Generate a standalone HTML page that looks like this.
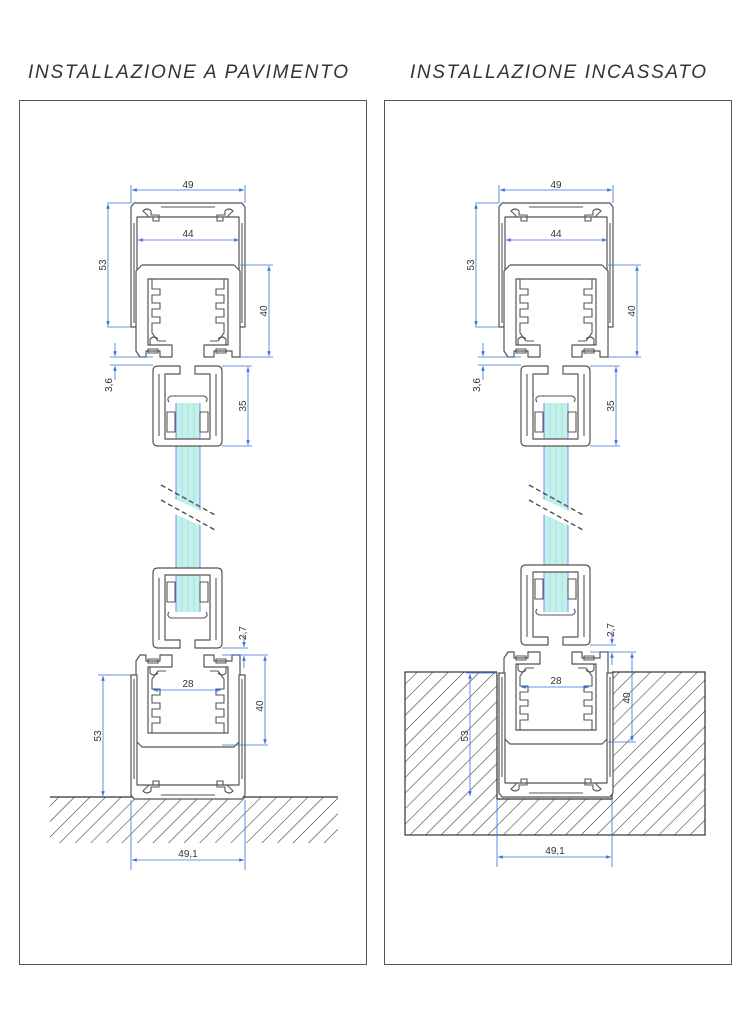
<!DOCTYPE html>
<html><head><meta charset="utf-8"><style>
html,body{margin:0;padding:0;background:#fff}
svg{display:block}
text{font-family:"Liberation Sans",sans-serif;fill:#333}
.t{font-size:19px;font-style:italic;letter-spacing:2px;fill:#333}
.d{font-size:10px}
.p{fill:#fff;stroke:#555;stroke-width:1.2;stroke-linejoin:round}
.q{fill:none;stroke:#555;stroke-width:1.1}
.dm{stroke:#3b6fe0;stroke-width:0.8;fill:none}
</style></head><body>
<svg width="751" height="1024" viewBox="0 0 751 1024" xmlns="http://www.w3.org/2000/svg">
<defs>
<marker id="a" viewBox="0 0 8 6" refX="8" refY="3" markerWidth="6" markerHeight="5" orient="auto-start-reverse"><path d="M0,0L8,3L0,6Z" fill="#3b6fe0"/></marker>
<pattern id="h" width="11" height="11" patternUnits="userSpaceOnUse" patternTransform="rotate(45)"><line x1="0" y1="0" x2="0" y2="11" stroke="#333" stroke-width="1.1"/></pattern>
<g id="TO">
<path class="p" d="M3,0H111L114,4V124H108V14H6V124H0V4Z"/>
<path class="q" d="M12,8q4,-4 8,0v4h8v6h-6v-4h-4z M102,8q-4,-4 -8,0v4h-8v6h6v-4h4z M30,4H84"/>
<line class="q" x1="3" y1="20" x2="3" y2="120"/><line class="q" x1="111" y1="20" x2="111" y2="120"/>
</g>
<g id="IN">
<path class="p" d="M6,0H98L104,6V92H96V86H78V92H68V80H92V14H12V80H36V92H24V86H10V92H4L0,86V6Z"/>
<path class="q" d="M16,14V24H24V30H16V38H24V44H16V52H24V58H16V68L22,76H30 M88,14V24H80V30H88V38H80V44H88V52H80V58H88V68L82,76H74"/>
<path class="q" d="M14,80v-6q4,-4 8,0 M90,80v-6q-4,-4 -8,0"/>
<path class="q" d="M12,84h10v4h-10z M80,84h10v4h-10z"/>
</g>
<g id="CA">
<path class="p" d="M5,0H27V8H12V73H57V8H42V0H64Q69,0 69,5V75Q69,80 64,80H5Q0,80 0,75V5Q0,0 5,0Z"/>
<path class="q" d="M6,8V70 M63,8V70"/>
<path class="q" d="M16,36q-3,-4 2,-6h33q5,2 2,6 M14,46h8v20h-8z M47,46h8v20h-8z"/>
</g>
<g id="GL">
<rect x="0" y="0" width="24" height="209" fill="#c2f0ea"/>
<path d="M6,0V209M12,0V209M18,0V209" stroke="#aee2dc" stroke-width="1"/>
<path d="M0,0V209M24,0V209" stroke="#6f8ff0" stroke-width="1"/>
</g>
</defs>

<text class="t" x="28" y="78" textLength="322">INSTALLAZIONE A PAVIMENTO</text>
<text class="t" x="410" y="78" textLength="298">INSTALLAZIONE INCASSATO</text>
<rect x="19.5" y="100.5" width="347" height="864" fill="none" stroke="#555" stroke-width="1"/>
<rect x="384.5" y="100.5" width="347" height="864" fill="none" stroke="#555" stroke-width="1"/>

<!-- LEFT -->
<rect x="50" y="797" width="288" height="46" fill="url(#h)"/>
<line x1="50" y1="797" x2="338" y2="797" stroke="#333" stroke-width="1.2"/>
<g transform="translate(176,403)"><use href="#GL"/></g>
<path d="M150,488L222,520L222,535L150,503Z" fill="#fff"/>
<path d="M161,485L215,515M161,500L215,530" stroke="#444" stroke-width="1.3" stroke-dasharray="5,3"/>
<use href="#TO" transform="translate(131,203)"/>
<use href="#IN" transform="translate(136,265)"/>
<use href="#CA" transform="translate(153,366)"/>
<use href="#CA" transform="translate(153,648) scale(1,-1)"/>
<use href="#IN" transform="translate(136,747) scale(1,-1)"/>
<use href="#TO" transform="translate(131,799) scale(1,-1)"/>
<g class="dm">
<path d="M131,185V203M245,185V203M107,203H131M107,327H131M240,265H273M240,357H273M110,357H153M110,365H153M222,366H252M222,446H252M222,648H248M222,655H268M222,745H268M98,675H131M131,800V870M245,800V870"/>
<line x1="132" y1="190" x2="244" y2="190" marker-start="url(#a)" marker-end="url(#a)"/>
<line x1="138" y1="240" x2="239" y2="240" marker-start="url(#a)" marker-end="url(#a)"/>
<line x1="108" y1="204" x2="108" y2="326" marker-start="url(#a)" marker-end="url(#a)"/>
<line x1="269" y1="266" x2="269" y2="356" marker-start="url(#a)" marker-end="url(#a)"/>
<line x1="115" y1="343" x2="115" y2="356" marker-end="url(#a)"/><line x1="115" y1="380" x2="115" y2="366" marker-end="url(#a)"/>
<line x1="248" y1="367" x2="248" y2="445" marker-start="url(#a)" marker-end="url(#a)"/>
<line x1="244" y1="634" x2="244" y2="647" marker-end="url(#a)"/><line x1="244" y1="668" x2="244" y2="656" marker-end="url(#a)"/>
<line x1="265" y1="656" x2="265" y2="744" marker-start="url(#a)" marker-end="url(#a)"/>
<line x1="153" y1="690" x2="221" y2="690" marker-start="url(#a)" marker-end="url(#a)"/>
<line x1="103" y1="676" x2="103" y2="796" marker-start="url(#a)" marker-end="url(#a)"/>
<line x1="132" y1="860" x2="244" y2="860" marker-start="url(#a)" marker-end="url(#a)"/>
</g>
<g class="d">
<text x="188" y="188" text-anchor="middle">49</text>
<text x="188" y="237" text-anchor="middle">44</text>
<text x="188" y="687" text-anchor="middle">28</text>
<text x="188" y="857" text-anchor="middle">49,1</text>
<text transform="translate(106,265) rotate(-90)" text-anchor="middle">53</text>
<text transform="translate(267,311) rotate(-90)" text-anchor="middle">40</text>
<text transform="translate(112,385) rotate(-90)" text-anchor="middle">3,6</text>
<text transform="translate(246,406) rotate(-90)" text-anchor="middle">35</text>
<text transform="translate(246,633) rotate(-90)" text-anchor="middle">2,7</text>
<text transform="translate(263,706) rotate(-90)" text-anchor="middle">40</text>
<text transform="translate(101,736) rotate(-90)" text-anchor="middle">53</text>
</g>

<!-- RIGHT -->
<rect x="405" y="672" width="300" height="163" fill="url(#h)" stroke="#333" stroke-width="1.2"/>
<path d="M497,672V799H612V672Z" fill="#fff" stroke="#333" stroke-width="1.2"/>
<rect x="497" y="671" width="115" height="3" fill="#fff"/>
<g transform="translate(544,403)"><use href="#GL"/></g>
<path d="M518,488L590,520L590,535L518,503Z" fill="#fff"/>
<path d="M529,485L583,515M529,500L583,530" stroke="#444" stroke-width="1.3" stroke-dasharray="5,3"/>
<use href="#TO" transform="translate(499,203)"/>
<use href="#IN" transform="translate(504,265)"/>
<use href="#CA" transform="translate(521,366)"/>
<use href="#CA" transform="translate(521,645) scale(1,-1)"/>
<use href="#IN" transform="translate(504,744) scale(1,-1)"/>
<use href="#TO" transform="translate(499,797) scale(1,-1)"/>
<g class="dm">
<path d="M499,185V203M613,185V203M475,203H499M475,327H499M608,265H641M608,357H641M478,357H521M478,365H521M590,366H620M590,446H620M590,645H616M590,652H636M608,742H636M466,673H499M497,800V867M612,800V867"/>
<line x1="500" y1="190" x2="612" y2="190" marker-start="url(#a)" marker-end="url(#a)"/>
<line x1="506" y1="240" x2="607" y2="240" marker-start="url(#a)" marker-end="url(#a)"/>
<line x1="476" y1="204" x2="476" y2="326" marker-start="url(#a)" marker-end="url(#a)"/>
<line x1="637" y1="266" x2="637" y2="356" marker-start="url(#a)" marker-end="url(#a)"/>
<line x1="483" y1="343" x2="483" y2="356" marker-end="url(#a)"/><line x1="483" y1="380" x2="483" y2="366" marker-end="url(#a)"/>
<line x1="616" y1="367" x2="616" y2="445" marker-start="url(#a)" marker-end="url(#a)"/>
<line x1="612" y1="631" x2="612" y2="644" marker-end="url(#a)"/><line x1="612" y1="665" x2="612" y2="653" marker-end="url(#a)"/>
<line x1="632" y1="653" x2="632" y2="741" marker-start="url(#a)" marker-end="url(#a)"/>
<line x1="521" y1="687" x2="589" y2="687" marker-start="url(#a)" marker-end="url(#a)"/>
<line x1="470" y1="674" x2="470" y2="796" marker-start="url(#a)" marker-end="url(#a)"/>
<line x1="498" y1="857" x2="611" y2="857" marker-start="url(#a)" marker-end="url(#a)"/>
</g>
<g class="d">
<text x="556" y="188" text-anchor="middle">49</text>
<text x="556" y="237" text-anchor="middle">44</text>
<text x="556" y="684" text-anchor="middle">28</text>
<text x="555" y="854" text-anchor="middle">49,1</text>
<text transform="translate(474,265) rotate(-90)" text-anchor="middle">53</text>
<text transform="translate(635,311) rotate(-90)" text-anchor="middle">40</text>
<text transform="translate(480,385) rotate(-90)" text-anchor="middle">3,6</text>
<text transform="translate(614,406) rotate(-90)" text-anchor="middle">35</text>
<text transform="translate(614,630) rotate(-90)" text-anchor="middle">2,7</text>
<text transform="translate(630,698) rotate(-90)" text-anchor="middle">40</text>
<text transform="translate(468,736) rotate(-90)" text-anchor="middle">53</text>
</g>
</svg>
</body></html>
